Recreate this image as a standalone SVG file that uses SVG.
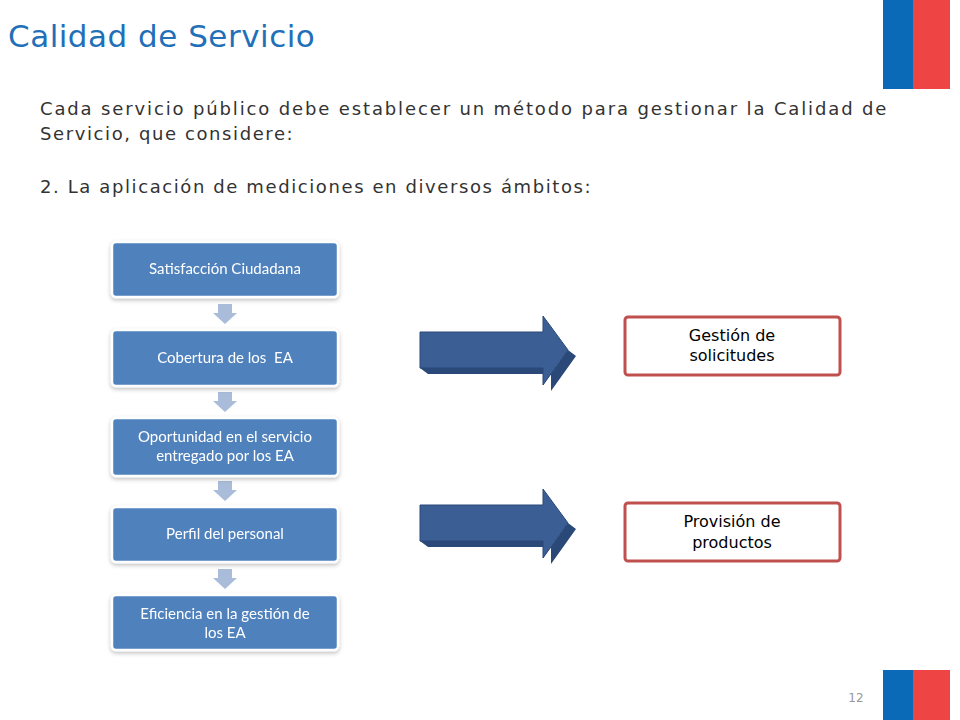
<svg xmlns="http://www.w3.org/2000/svg" width="960" height="720" viewBox="0 0 960 720">
<style>
.n rect{fill:#4f81bd;stroke:#fff;stroke-width:2.5}
.nt{font-family:Lato,"Open Sans",sans-serif;font-size:15px;fill:#fff;text-anchor:middle}
.body{font-family:"DejaVu Sans",sans-serif;font-size:18px;letter-spacing:1.6px;fill:#333}
.r rect{fill:#fff;stroke:#c0504d;stroke-width:3}
.rt{font-family:"DejaVu Sans",sans-serif;font-size:16px;fill:#000;text-anchor:middle}
.sa{fill:#a9bcd9}
</style>
<defs>
<filter id="sh" x="-10%" y="-10%" width="120%" height="130%"><feDropShadow dx="0" dy="2" stdDeviation="2" flood-color="#000" flood-opacity="0.25"/></filter>
<g id="big">
<polygon points="0,52 123,52 123,69 148,34 156,40 131,75 131,58 8,58" fill="#2a4878"/>
<polygon points="0,16 123,16 123,0 148,34 123,69 123,52 0,52" fill="#3b5f94" stroke="#2a4878" stroke-width="1"/>
</g>
</defs>
<text x="8" y="47" font-family="'DejaVu Sans',sans-serif" font-size="31" letter-spacing="0.5" fill="#1f70b8">Calidad de Servicio</text>
<rect x="883" y="0" width="30" height="89" fill="#0a6ab8"/><rect x="913" y="0" width="37" height="89" fill="#ef4444"/>
<rect x="883" y="670" width="30" height="50" fill="#0a6ab8"/><rect x="913" y="670" width="37" height="50" fill="#ef4444"/>
<text x="856" y="702" font-family="'DejaVu Sans',sans-serif" font-size="12" fill="#999" text-anchor="middle">12</text>
<text class="body" x="40" y="115" textLength="848" lengthAdjust="spacing">Cada servicio público debe establecer un método para gestionar la Calidad de</text>
<text class="body" x="40" y="140">Servicio, que considere:</text>
<text class="body" x="40" y="193">2. La aplicación de mediciones en diversos ámbitos:</text>
<g id="connectors">
<polygon class="sa" points="218,304 232,304 232,313 237,313 225,324 213,313 218,313"/>
<polygon class="sa" points="218,392 232,392 232,401 237,401 225,412 213,401 218,401"/>
<polygon class="sa" points="218,481 232,481 232,490 237,490 225,501 213,490 218,490"/>
<polygon class="sa" points="218,569 232,569 232,578 237,578 225,589 213,578 218,578"/>
<use href="#big" x="420" y="316"/>
<use href="#big" x="420" y="489"/>
</g>
<g id="n1" class="n" filter="url(#sh)"><rect x="112" y="242" width="226" height="55" rx="4"/><text class="nt" x="225" y="274">Satisfacción Ciudadana</text></g>
<g id="n2" class="n" filter="url(#sh)"><rect x="112" y="330" width="226" height="56" rx="4"/><text class="nt" x="225" y="363" xml:space="preserve">Cobertura de los  EA</text></g>
<g id="n3" class="n" filter="url(#sh)"><rect x="112" y="418" width="226" height="58" rx="4"/><text class="nt" x="225" y="442">Oportunidad en el servicio</text><text class="nt" x="225" y="461">entregado por los EA</text></g>
<g id="n4" class="n" filter="url(#sh)"><rect x="112" y="507" width="226" height="55" rx="4"/><text class="nt" x="225" y="539">Perfil del personal</text></g>
<g id="n5" class="n" filter="url(#sh)"><rect x="112" y="595" width="226" height="55" rx="4"/><text class="nt" x="225" y="619">Eficiencia en la gestión de</text><text class="nt" x="225" y="638">los EA</text></g>
<g id="r1" class="r"><rect x="625" y="317" width="215" height="58" rx="3"/><text class="rt" x="732" y="341">Gestión de</text><text class="rt" x="732" y="361">solicitudes</text></g>
<g id="r2" class="r"><rect x="625" y="503" width="215" height="58" rx="3"/><text class="rt" x="732" y="527">Provisión de</text><text class="rt" x="732" y="548">productos</text></g>
</svg>
